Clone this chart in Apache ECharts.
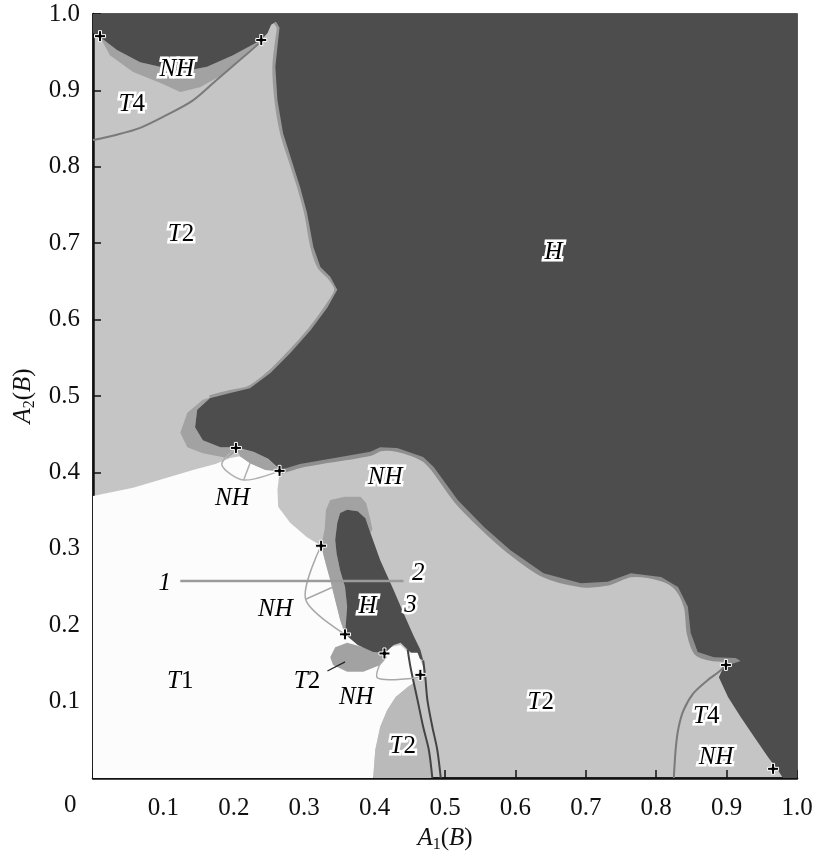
<!DOCTYPE html>
<html><head><meta charset="utf-8">
<script src="https://cdn.jsdelivr.net/npm/echarts@6/dist/echarts.min.js"></script>
<style>html,body{margin:0;padding:0;background:#fff}#c{width:820px;height:859px}</style>
</head><body><div id="c"></div>
<script>
// ---- axis ticks ----
const tickValues = [0.1,0.2,0.3,0.4,0.5,0.6,0.7,0.8,0.9,1.0];

// ---- regions (data units: A1(B), A2(B)) ----
const regionT1 = [[0,0],[0,0.369],[0.057,0.380],[0.105,0.393],[0.142,0.403],[0.174,0.411],[0.195,0.419],[0.209,0.421],[0.223,0.412],[0.245,0.403],[0.265,0.401],[0.262,0.377],[0.263,0.355],[0.280,0.334],[0.304,0.315],[0.324,0.304],[0.331,0.279],[0.337,0.259],[0.344,0.233],[0.351,0.207],[0.358,0.188],[0.380,0.181],[0.415,0.170],[0.437,0.174],[0.447,0.165],[0.454,0.144],[0.455,0.124],[0.447,0.119],[0.430,0.106],[0.418,0.089],[0.408,0.067],[0.401,0.037],[0.398,0]];

const regionT2low = [[0.398,0],[0.401,0.037],[0.408,0.067],[0.418,0.089],[0.430,0.106],[0.447,0.119],[0.455,0.124],[0.461,0.102],[0.469,0.067],[0.477,0.037],[0.482,0]];

const regionH = [[0,1],[1,1],[1,0],[0.980,0],[0.973,0.010],[0.959,0.027],[0.939,0.054],[0.920,0.080],[0.902,0.106],[0.889,0.132],[0.895,0.144],[0.906,0.149],[0.920,0.153],[0.913,0.157],[0.882,0.158],[0.859,0.165],[0.849,0.190],[0.845,0.224],[0.831,0.250],[0.807,0.263],[0.764,0.268],[0.731,0.257],[0.693,0.255],[0.640,0.268],[0.593,0.298],[0.555,0.329],[0.518,0.364],[0.484,0.407],[0.469,0.420],[0.432,0.432],[0.408,0.433],[0.394,0.427],[0.337,0.418],[0.294,0.411],[0.266,0.403],[0.249,0.418],[0.228,0.427],[0.203,0.433],[0.181,0.433],[0.156,0.442],[0.145,0.459],[0.148,0.482],[0.166,0.497],[0.195,0.504],[0.223,0.510],[0.252,0.530],[0.280,0.556],[0.309,0.586],[0.333,0.616],[0.347,0.639],[0.337,0.656],[0.323,0.669],[0.313,0.695],[0.304,0.740],[0.294,0.774],[0.285,0.800],[0.270,0.844],[0.262,0.887],[0.259,0.931],[0.263,0.966],[0.265,0.982],[0.260,0.990],[0.253,0.986],[0.248,0.975],[0.239,0.966],[0.199,0.946],[0.162,0.931],[0.124,0.924],[0.095,0.931],[0.067,0.937],[0.034,0.953],[0.010,0.970],[0.003,0.974],[0,0.975]];

const regionHspike = [[0.361,0.351],[0.376,0.349],[0.387,0.340],[0.394,0.321],[0.408,0.285],[0.427,0.246],[0.441,0.216],[0.455,0.187],[0.465,0.168],[0.469,0.154],[0.461,0.157],[0.447,0.168],[0.437,0.177],[0.427,0.174],[0.415,0.164],[0.398,0.165],[0.376,0.174],[0.358,0.188],[0.361,0.224],[0.358,0.250],[0.351,0.272],[0.346,0.294],[0.344,0.312],[0.347,0.334],[0.351,0.347]];

const bandTopArc = [[0.010,0.970],[0.034,0.953],[0.067,0.937],[0.095,0.931],[0.124,0.924],[0.162,0.931],[0.199,0.946],[0.239,0.966],[0.228,0.957],[0.191,0.924],[0.152,0.904],[0.124,0.898],[0.095,0.910],[0.057,0.924],[0.024,0.946]];
const bandLobe = [[0.188,0.504],[0.156,0.495],[0.134,0.478],[0.124,0.452],[0.134,0.433],[0.156,0.425],[0.191,0.419],[0.203,0.427],[0.203,0.433],[0.181,0.433],[0.156,0.442],[0.145,0.459],[0.148,0.482],[0.166,0.497]];
const bandUnderLobe = [[0.203,0.432],[0.228,0.427],[0.249,0.418],[0.265,0.402],[0.245,0.403],[0.223,0.412],[0.209,0.421]];
const bandSpike = [[0.324,0.304],[0.329,0.325],[0.331,0.351],[0.337,0.364],[0.358,0.368],[0.380,0.368],[0.388,0.360],[0.393,0.342],[0.397,0.325],[0.394,0.321],[0.387,0.340],[0.376,0.349],[0.361,0.351],[0.351,0.347],[0.347,0.334],[0.344,0.312],[0.346,0.294],[0.351,0.272],[0.358,0.250],[0.361,0.224],[0.358,0.188],[0.351,0.207],[0.344,0.233],[0.337,0.259],[0.331,0.279]];
const bandBulbT2 = [[0.337,0.158],[0.344,0.171],[0.361,0.177],[0.384,0.171],[0.408,0.168],[0.418,0.158],[0.408,0.148],[0.384,0.139],[0.361,0.139],[0.341,0.148]];
const whiteBlob = [[0.448,0.164],[0.461,0.164],[0.469,0.145],[0.468,0.128],[0.454,0.131],[0.448,0.145]];

// ---- boundary curves ----
const edgeMain = [[0.899,0.148],[0.906,0.149],[0.920,0.153],[0.913,0.157],[0.882,0.158],[0.859,0.165],[0.849,0.190],[0.845,0.224],[0.831,0.250],[0.807,0.263],[0.764,0.268],[0.731,0.257],[0.693,0.255],[0.640,0.268],[0.593,0.298],[0.555,0.329],[0.518,0.364],[0.484,0.407],[0.469,0.420],[0.432,0.432],[0.408,0.433],[0.394,0.427],[0.337,0.418],[0.294,0.411],[0.266,0.403]];
const edgeT2 = [[0.166,0.497],[0.195,0.504],[0.223,0.510],[0.252,0.530],[0.280,0.556],[0.309,0.586],[0.333,0.616],[0.347,0.639],[0.337,0.656],[0.323,0.669],[0.313,0.695],[0.304,0.740],[0.294,0.774],[0.285,0.800],[0.270,0.844],[0.262,0.887],[0.259,0.931],[0.263,0.966],[0.265,0.982],[0.260,0.990]];
const lineT4top = [[0,0.835],[0.034,0.842],[0.067,0.851],[0.105,0.868],[0.142,0.887],[0.176,0.914],[0.209,0.940],[0.235,0.961]];
const lineT4right = [[0.899,0.148],[0.889,0.139],[0.873,0.128],[0.853,0.111],[0.839,0.089],[0.832,0.067],[0.828,0.041],[0.825,0]];
const lineStrandA = [[0.447,0.168],[0.451,0.145],[0.461,0.102],[0.469,0.067],[0.477,0.037],[0.482,0]];
const lineStrandB = [[0.469,0.154],[0.472,0.132],[0.475,0.102],[0.482,0.067],[0.489,0.037],[0.494,0]];
const lineNHlobe1 = [[0.203,0.432],[0.183,0.410],[0.214,0.390],[0.265,0.402]];
const lineNHlobe2 = [[0.214,0.390],[0.223,0.412]];
const lineNHspike1 = [[0.324,0.304],[0.302,0.234],[0.358,0.188]];
const lineNHspike2 = [[0.302,0.234],[0.341,0.250]];
const lineNHbelow = [[0.415,0.164],[0.404,0.131],[0.465,0.132]];
const line12 = [[0.124,0.258],[0.441,0.258]];
const leaderT2 = [[0.333,0.140],[0.358,0.152]];

// ---- special points ----
const crossPoints = [[0.010,0.971],[0.239,0.966],[0.203,0.432],[0.265,0.402],[0.324,0.304],[0.358,0.188],[0.414,0.163],[0.465,0.135],[0.899,0.148],[0.966,0.012]];

// ---- region labels ----
const labelTexts = ['NH','T4','T2','H','NH','NH','1','2','3','NH','H','T1','T2','NH','T2','T2','T4','NH'];
const labelX =     [0.119,0.055,0.125,0.654,0.415,0.198,0.102,0.462,0.451,0.259,0.390,0.124,0.304,0.374,0.440,0.636,0.871,0.885];
const labelY =     [0.927,0.881,0.711,0.688,0.393,0.366,0.255,0.268,0.226,0.220,0.224,0.126,0.127,0.106,0.041,0.099,0.080,0.027];
const labelHalo =  [1,1,1,1,1,0,0,1,1,0,1,0,0,0,1,1,1,1];

const C_WHITE='#fcfcfc', C_LIGHT='#c5c5c5', C_MED='#a2a2a2', C_DARK='#4d4d4d', C_LOW='#bababa';
const FONT='Liberation Serif';

function polygon(pts, fill, z){
  return {type:'custom', coordinateSystem:'cartesian2d', silent:true, z:z, data:[[0,0]],
    renderItem:(p,api)=>({type:'polygon', shape:{points:pts.map(q=>api.coord(q))}, style:{fill:fill}})};
}
function polyline(pts, stroke, w, z){
  return {type:'custom', coordinateSystem:'cartesian2d', silent:true, z:z, data:[[0,0]],
    renderItem:(p,api)=>({type:'polyline', shape:{points:pts.map(q=>api.coord(q)), smooth:0.3}, style:{stroke:stroke, lineWidth:w, fill:null}})};
}

function fmtLabel(t, halo){
  const s = halo ? 'h' : 'p';
  const m = t.match(/^T(\d)$/);
  if (m) return '{i'+s+'|T}{n'+s+'|'+m[1]+'}';
  return '{i'+s+'|'+t+'}';
}
const base = {fontFamily:FONT, fontSize:25, color:'#000', opacity:1};
const halo = {textBorderColor:'#fff', textBorderWidth:5};
const richLbl = {
  ip:Object.assign({}, base, {fontStyle:'italic'}),
  np:Object.assign({}, base),
  ih:Object.assign({}, base, halo, {fontStyle:'italic'}),
  nh:Object.assign({}, base, halo)
};

const labelData = labelTexts.map((t,i)=>({value:[labelX[i],labelY[i]], label:{formatter:fmtLabel(t,labelHalo[i])}}));

const axisCommon = {
  type:'value', min:0, max:1, interval:0.1,
  axisLine:{show:true, onZero:false, lineStyle:{color:'#111', width:2.5}},
  axisTick:{show:true, inside:true, length:8, lineStyle:{color:'#111', width:1.5}},
  splitLine:{show:false},
  axisLabel:{fontFamily:FONT, fontSize:25, color:'#111', formatter:v=> (tickValues.some(t=>Math.abs(t-v)<1e-9) ? v.toFixed(1) : '')},
  nameTextStyle:{fontFamily:FONT, fontSize:25, color:'#111',
    rich:{i:{fontFamily:FONT,fontSize:25,fontStyle:'italic',color:'#111'},
          n:{fontFamily:FONT,fontSize:25,color:'#111'},
          s:{fontFamily:FONT,fontSize:16,color:'#111',padding:[12,0,0,0]}}}
};

const chart = echarts.init(document.getElementById('c'), null, {renderer:'canvas'});
chart.setOption({
  animation:false,
  backgroundColor:'#fff',
  grid:{left:93, top:14, right:23, bottom:81, show:true, backgroundColor:C_LIGHT, borderColor:'#222', borderWidth:1.5},
  xAxis:Object.assign({}, axisCommon, {name:'{i|A}{s|1}{n|(}{i|B}{n|)}', nameLocation:'middle', nameGap:45,
    axisLabel:Object.assign({}, axisCommon.axisLabel, {margin:18})}),
  yAxis:Object.assign({}, axisCommon, {name:'{i|A}{s|2}{n|(}{i|B}{n|)}', nameLocation:'middle', nameGap:55,
    axisLabel:Object.assign({}, axisCommon.axisLabel, {margin:13})}),
  graphic:[{type:'text', left:64, top:793, style:{text:'0', font:'25px "Liberation Serif"', fill:'#111'}}],
  series:[
    polygon(regionT1, C_WHITE, 1),
    polygon(regionT2low, C_LOW, 2),
    polyline(edgeMain, '#8e8e8e', 8, 3),
    polyline(edgeT2, '#9a9a9a', 6, 3),
    polygon(bandTopArc, C_MED, 4),
    polygon(bandLobe, C_MED, 4),
    polygon(bandUnderLobe, C_MED, 4),
    polygon(bandSpike, C_MED, 4),
    polygon(bandBulbT2, C_MED, 4),
    polygon(regionH, C_DARK, 5),
    polygon(regionHspike, C_DARK, 5),
    polygon(whiteBlob, C_WHITE, 6),
    polyline(lineT4top, '#7a7a7a', 2, 7),
    polyline(lineT4right, '#7a7a7a', 2, 7),
    polyline(lineStrandA, '#444', 2, 7),
    polyline(lineStrandB, '#444', 2, 7),
    polyline(lineNHlobe1, '#b0b0b0', 1.5, 7),
    polyline(lineNHlobe2, '#b0b0b0', 1.5, 7),
    polyline(lineNHspike1, '#a8a8a8', 1.5, 7),
    polyline(lineNHspike2, '#a8a8a8', 1.5, 7),
    polyline(lineNHbelow, '#a8a8a8', 1.5, 7),
    polyline(line12, '#9a9a9a', 2.5, 7),
    polyline(leaderT2, '#222', 1.2, 7),
    {type:'scatter', z:8, silent:true, data:crossPoints,
      symbol:'path://M4,0H7V4H11V7H7V11H4V7H0V4H4Z', symbolSize:11,
      itemStyle:{color:'#000', borderColor:'#fff', borderWidth:1, opacity:1}},
    {type:'scatter', z:9, silent:true, data:labelData, symbolSize:0,
      itemStyle:{opacity:1},
      label:{show:true, position:'inside', rich:richLbl}}
  ]
});
</script></body></html>
